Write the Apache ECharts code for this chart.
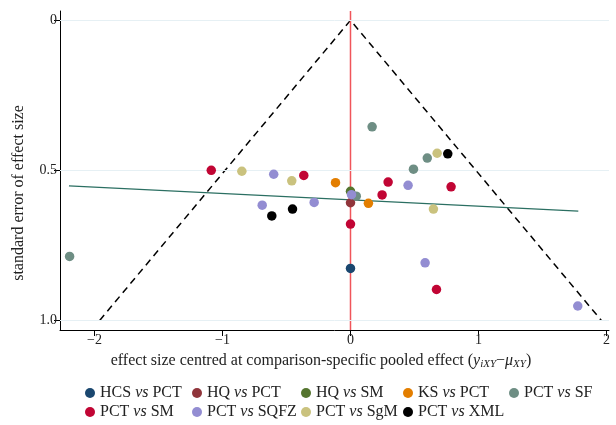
<!DOCTYPE html>
<html>
<head>
<meta charset="utf-8">
<script src="https://cdn.jsdelivr.net/npm/echarts@6/dist/echarts.min.js"></script>
<style>html,body{margin:0;padding:0;background:#fff;}#c{width:616px;height:425px;}</style>
</head>
<body>
<div id="c"></div>
<script>
// ---- data ----
const seriesNames = ['HCS vs PCT','HQ vs PCT','HQ vs SM','KS vs PCT','PCT vs SF','PCT vs SM','PCT vs SQFZ','PCT vs SgM','PCT vs XML'];
const hcsPct  = [[0.00,0.827]];
const hqPct   = [[0.00,0.608]];
const hqSm    = [[0.00,0.570]];
const ksPct   = [[-0.117,0.541],[0.140,0.610]];
const pctSf   = [[0.169,0.355],[0.600,0.459],[0.492,0.496],[0.045,0.586],[-2.195,0.787]];
const pctSm   = [[-1.088,0.500],[-0.365,0.517],[0.00,0.679],[0.294,0.539],[0.786,0.555],[0.247,0.582],[0.672,0.897]];
const pctSqfz = [[-0.600,0.513],[-0.690,0.616],[-0.284,0.607],[0.450,0.550],[0.008,0.581],[0.583,0.808],[1.776,0.952]];
const pctSgm  = [[-0.849,0.503],[-0.459,0.535],[0.677,0.443],[0.648,0.629]];
const pctXml  = [[-0.615,0.652],[-0.453,0.629],[0.760,0.445]];
const regLine = [[-2.20,0.552],[1.78,0.636]];
const funnel  = [[-1.96,1.0],[0,0],[1.96,1.0]];
const xTicks = [-2,-1,0,1,2];
const yTicks = [0,0.5,1.0];
const yTickLabels = ['0','0.5','1.0'];
const xTitle = '{t|effect size centred at comparison-specific pooled effect (}{i|y}{s|iXY}{t|\u2212}{i|\u03bc}{s|XY}{t|)}';
const yTitle = 'standard error of effect size';

const seriesData = [hcsPct,hqPct,hqSm,ksPct,pctSf,pctSm,pctSqfz,pctSgm,pctXml];
const colors = ['#1a476f','#90353b','#55752f','#e37e00','#6e8e84','#c10534','#938dd2','#cac27e','#000000'];

const FONT = '"Liberation Serif","DejaVu Serif",serif';
const chart = echarts.init(document.getElementById('c'), null, {renderer:'canvas'});

// legend marker centres (x) and row centres (y)
const legendCx = [90,197,306,408,514,90,197,306,408];
const legendCy = [393,393,393,393,393,412,412,412,412];

const scatterSeries = seriesNames.map((n,i)=>({
  name:n, type:'scatter', data:seriesData[i], symbol:'circle', symbolSize:9.5,
  itemStyle:{color:colors[i], opacity:1}, z:10+i
}));

const option = {
  animation:false,
  backgroundColor:'#fff',
  grid:{left:60, right:7, top:11, bottom:95},
  xAxis:{
    type:'value', min:-2.27, max:2.02,
    axisLine:{show:true, onZero:false, lineStyle:{color:'#000', width:1}},
    axisTick:{show:true, length:6, lineStyle:{color:'#000'}, customValues:xTicks},
    axisLabel:{customValues:xTicks, color:'#222', fontFamily:FONT, fontSize:14, margin:3,
      formatter:v=> v<0 ? '\u2212'+Math.abs(v) : String(v)},
    splitLine:{show:false}
  },
  yAxis:{
    type:'value', inverse:true, min:-0.031, max:1.032,
    axisLine:{show:true, onZero:false, lineStyle:{color:'#000', width:1}},
    axisTick:{show:true, length:6, lineStyle:{color:'#000'}, customValues:yTicks},
    axisLabel:{customValues:yTicks, color:'#222', fontFamily:FONT, fontSize:14, margin:3,
      formatter:v=>{const k=yTicks.indexOf(v); return k>=0?yTickLabels[k]:'';}},
    splitLine:{show:false}
  },
  graphic:[
    {type:'text', x:321, y:361, silent:true, style:{
      text:xTitle, textAlign:'center', textVerticalAlign:'middle', fill:'#222',
      rich:{
        t:{fontFamily:FONT, fontSize:16, fill:'#222'},
        i:{fontFamily:FONT, fontSize:16, fill:'#222', fontStyle:'italic'},
        s:{fontFamily:FONT, fontSize:11, fill:'#222', fontStyle:'italic', verticalAlign:'bottom', padding:[7,0,0,0]}
      }}},
    {type:'text', x:19, y:193, rotation:Math.PI/2, silent:true, style:{
      text:yTitle, textAlign:'center', textVerticalAlign:'middle', fill:'#222',
      font:'16px "Liberation Serif", serif'}}
  ],
  legend: seriesNames.map((n,i)=>({
    data:[n], left:legendCx[i]-5, top:legendCy[i]-9, padding:0,
    icon:'circle', itemWidth:10, itemHeight:10, itemGap:4,
    textStyle:{fontFamily:FONT, fontSize:16, color:'#222', lineHeight:18, rich:{
      i:{fontFamily:FONT, fontSize:16, color:'#222', fontStyle:'italic', lineHeight:18}
    }},
    formatter:name=>name.replace(' vs ',' {i|vs} ')
  })),
  series:[
    {type:'line', data:funnel, symbol:'none', silent:true, z:3,
     lineStyle:{color:'#000', width:1.5, type:[7,5]},
     markLine:{silent:true, symbol:'none', label:{show:false},
       lineStyle:{color:'#e6f0f4', width:1, type:'solid'},
       data:yTicks.map(v=>({yAxis:v}))}},
    {type:'line', data:[[0,-0.031],[0,1.032]], symbol:'none', silent:true, z:4,
     lineStyle:{color:'#f0555a', width:1.5}},
    {type:'line', data:regLine, symbol:'none', silent:true, z:5,
     lineStyle:{color:'#2b6f62', width:1.3}},
    ...scatterSeries
  ]
};
chart.setOption(option);
</script>
</body>
</html>
